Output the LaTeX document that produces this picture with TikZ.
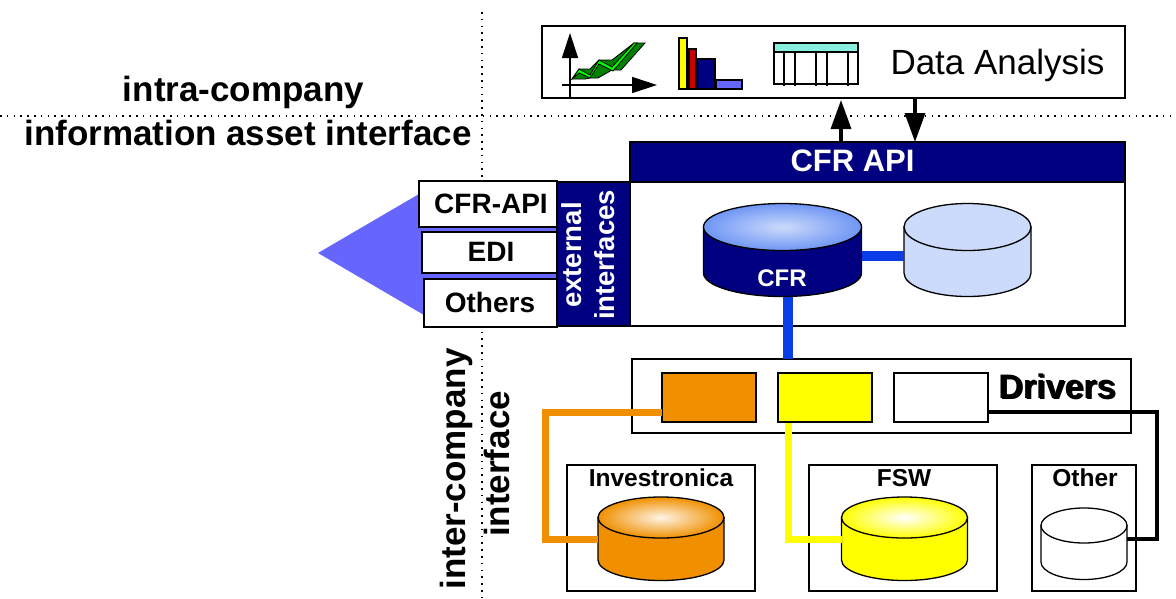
\documentclass[tikz,border=0pt]{standalone}
\usepackage{fontspec}
\setmainfont{Liberation Sans}
\usetikzlibrary{arrows.meta}
\definecolor{navy}{HTML}{000080}
\definecolor{linkblue}{HTML}{0A3CE8}
\definecolor{paleblue}{HTML}{CCDBFB}
\definecolor{midblue}{HTML}{6F96F5}
\definecolor{tri}{HTML}{6666FF}
\definecolor{orng}{HTML}{F09000}
\definecolor{yel}{HTML}{FFFF00}
\definecolor{teal}{HTML}{88EEDD}
\tikzset{
  box/.style={draw=black,line width=1.5pt,fill=white,inner sep=0pt,outer sep=0pt,anchor=north west},
  lbl/.style={font=\fontsize{#1}{#1}\selectfont\bfseries,inner sep=0pt,align=center},
  dots/.style={line width=1.6pt,dash pattern=on 1.6pt off 5.2pt},
  flow/.style={-{Triangle[length=29pt,width=20pt]},line width=3.4pt},
  link/.style={line width=#1,line join=miter},
  bar/.style={draw=black,line width=1.5pt}
}
% name, cx, ytop-ellipse-centre, y-side-end, rx, ry, side fill, top outer, top inner
\newcommand{\dbcyl}[9]{%
  \path[fill=#7,draw=black,line width=1.3pt]
    (#2-#5,#3) -- (#2-#5,#4) arc[x radius=#5,y radius=#6,start angle=180,end angle=0] -- (#2+#5,#3) -- cycle;
  \path[inner color=#9,outer color=#8,draw=black,line width=1.3pt]
    (#2,#3) ellipse[x radius=#5,y radius=#6];
  \node[minimum width=2*#5,minimum height=0pt,inner sep=0pt] (#1) at (#2,#4) {};
}
\begin{document}
\begin{tikzpicture}[x=1pt,y=-1pt]
\useasboundingbox (0,0) rectangle (1176,598);

% dotted lines
\coordinate (hl) at (0,116); \coordinate (hr) at (1176,116);
\coordinate (vt) at (482,12); \coordinate (vb) at (482,598);
\draw[dots] (hl) -- (hr);
\draw[dots] (vt) -- (vb);

% titles
\node[lbl=35] (t1) at (243.5,92) {intra-company};
\node[lbl=35] (t2) at (248,133) {information asset interface};
\node[lbl=35,rotate=90] (t3) at (456,469) {inter-company};
\node[lbl=35,rotate=90] (t4) at (497,464) {interface};

% data analysis
\node[box,minimum width=583pt,minimum height=72pt] (da) at (542,26) {};
\node[font=\fontsize{35}{35}\selectfont,inner sep=0pt] (datxt) at (997.5,65) {Data Analysis};

% line chart icon
\coordinate (ay0) at (570,97); \coordinate (ay1) at (570,33);
\coordinate (ax0) at (562,85); \coordinate (ax1) at (657,85);
\draw[-{Triangle[length=25pt,width=16pt]},line width=1.2pt] (ay0) -- (ay1);
\draw[-{Triangle[length=25pt,width=16pt]},line width=1.2pt] (ax0) -- (ax1);
\path[fill=green!50!black,draw=black,line width=.8pt]
 (572,79) -- (579,69) -- (590,69) -- (599,60) -- (612,60) -- (634,43) -- (645,43) -- (621,70)
 -- (612,70) -- (598,78) -- (590,78) -- (585,79) -- cycle;
\path[fill=green,draw=black,line width=.8pt]
 (572,79) -- (579,69) -- (590,75) -- (599,60) -- (612,67) -- (634,43) -- (637,43) -- (613,71)
 -- (599,64) -- (590,78) -- (579,73) -- cycle;

% bar icon
\draw[bar,fill=yel] (679,38) rectangle (687,89);
\draw[bar,fill=red!80!black] (689,49) rectangle (696,89);
\draw[bar,fill=navy] (697,59) rectangle (715,89);
\draw[bar,fill=tri] (716,80) rectangle (742,89);

% table icon
\draw[bar,fill=white] (774,43) rectangle (858,84);
\foreach \x in {784,795,816,827,848}{\draw[line width=1.2pt] (\x,43) -- (\x,86);}
\draw[bar,fill=teal] (774,43) rectangle (858,52);

% CFR API
\node[box,fill=navy,minimum width=495pt,minimum height=40pt] (api) at (630,142) {};
\node[lbl=31,text=white] at (852.5,161) {CFR API};
\node[box,minimum width=495pt,minimum height=144pt] (main) at (630,182) {};

% arrows data<->api
\coordinate (up0) at (841,142); \coordinate (up1) at (841,100);
\coordinate (dn0) at (915,98); \coordinate (dn1) at (915,142);
\draw[flow] (up0) -- (up1);
\draw[flow] (dn0) -- (dn1);

% external interfaces
\path[fill=tri] (318,253) -- (419,194) -- (557,194) -- (557,315) -- (424,315) -- cycle;
\node[box,fill=navy,minimum width=73pt,minimum height=144pt] (ext) at (557,182) {};
\node[lbl=27.5,text=white,rotate=90] at (572,255) {external};
\node[lbl=27.5,text=white,rotate=90] at (605,255) {interfaces};
\node[box,minimum width=138pt,minimum height=46pt] (b1) at (419,181) {};
\node[lbl=28] at (491,204) {CFR-API};
\node[box,minimum width=135pt,minimum height=41pt] (b2) at (422,232) {};
\node[lbl=28] at (491,252) {EDI};
\node[box,minimum width=133pt,minimum height=48pt] (b3) at (424,279) {};
\node[lbl=28] at (490,302) {Others};

% drivers
\node[box,minimum width=499pt,minimum height=74pt] (drv) at (632,359) {};
\node[box,fill=orng,minimum width=94pt,minimum height=49pt] (d1) at (662,373) {};
\node[box,fill=yel,minimum width=94pt,minimum height=49pt] (d2) at (778,373) {};
\node[box,minimum width=94pt,minimum height=49pt] (d3) at (894,373) {};
\node[lbl=34] at (1058.5,387) {Drivers};
\node[lbl=34] at (1057,386) {Drivers};

% source boxes
\node[box,line width=1.3pt,minimum width=188pt,minimum height=126pt] (s1) at (567,465) {};
\node[box,line width=1.3pt,minimum width=188pt,minimum height=126pt] (s2) at (809,465) {};
\node[box,line width=1.3pt,minimum width=104pt,minimum height=126pt] (s3) at (1032,465) {};
\node[lbl=24.5] at (661,478) {Investronica};
\node[lbl=24.5] at (904,478) {FSW};
\node[lbl=24.5] at (1085,478) {Other};

% cylinders
\dbcyl{cfr}{782.5}{227}{273}{79}{23.5}{navy}{midblue}{paleblue}
\dbcyl{aux}{967.5}{227}{273}{63.5}{23.5}{paleblue}{paleblue}{paleblue}
\dbcyl{c1}{661}{517.5}{560}{63}{20.5}{orng}{orng}{white!90!orng}
\dbcyl{c2}{904.5}{517.5}{560}{63}{20.5}{yel}{yel}{white}
\dbcyl{c3}{1084}{525.5}{562}{43}{17.5}{white}{white}{white}
\node[lbl=24,text=white] at (782,278) {CFR};

% links
\coordinate (cfrE) at (861.5,256); \coordinate (auxW) at (904,256);
\draw[link=10pt,linkblue] (cfrE) -- (auxW);
\coordinate (cfrS) at (788,297); \coordinate (drvN) at (788,359);
\draw[link=10pt,linkblue] (cfrS) -- (drvN);

\coordinate (o0) at (d1.west |- 0,412); \coordinate (o1) at (545,412);
\coordinate (o2) at (545,539); \coordinate (o3) at (598,539);
\draw[link=7pt,orng] (o0) -- (o1) -- (o2) -- (o3);
\coordinate (y0) at (788,423); \coordinate (y2) at (788,539); \coordinate (y3) at (841.5,539);
\draw[link=7pt,yel] (y0) -- (y2) -- (y3);
\coordinate (k0) at (d3.east |- 0,412); \coordinate (k1) at (1157,412);
\coordinate (k2) at (1157,539); \coordinate (k3) at (1127,539);
\draw[link=3.5pt,black] (k0) -- (k1) -- (k2) -- (k3);
\end{tikzpicture}
\end{document}
